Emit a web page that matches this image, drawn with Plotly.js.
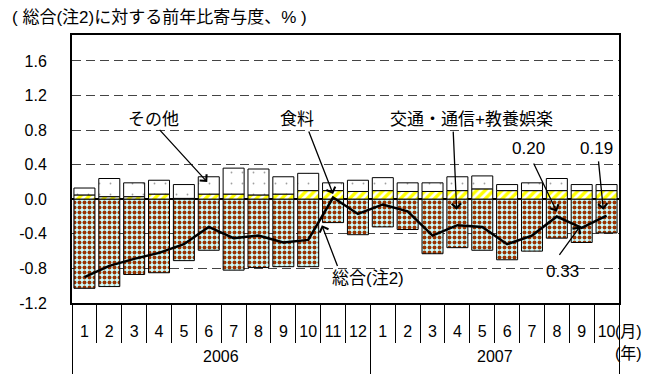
<!DOCTYPE html>
<html>
<head>
<meta charset="utf-8">
<script src="https://cdn.plot.ly/plotly-3.0.1.min.js"></script>
<style>
  html, body { margin: 0; padding: 0; background: #fff; }
  #chart { width: 669px; height: 374px; }
</style>
</head>
<body>
<div id="chart"></div>
<script>
// Month tick labels (Jan 2006 - Oct 2007) and the year groups they belong to
const monthLabels = ['1','2','3','4','5','6','7','8','9','10','11','12',
                     '1','2','3','4','5','6','7','8','9','10'];
const yearLabels = ['2006', '2007'];
const monthsPerYear = [12, 10];

// Contribution to the year-on-year change of the overall index (percentage points)
const total = [-0.90, -0.77, -0.69, -0.62, -0.52, -0.32, -0.45, -0.42, -0.50, -0.47, 0.02, -0.17,
               -0.06, -0.14, -0.42, -0.30, -0.32, -0.52, -0.42, -0.20, -0.33, -0.19];
const food = [0.05, 0.03, 0.03, 0.06, 0.01, 0.06, 0.06, 0.05, 0.06, 0.10, 0.10, 0.09,
              0.10, 0.09, 0.09, 0.10, 0.12, 0.10, 0.10, 0.10, 0.10, 0.10];
const transportCulture = [-1.03, -1.01, -0.87, -0.85, -0.71, -0.59, -0.82, -0.79, -0.78, -0.78, -0.27, -0.41,
                          -0.32, -0.35, -0.63, -0.56, -0.59, -0.70, -0.60, -0.45, -0.50, -0.39];
const others = [0.08, 0.21, 0.16, 0.16, 0.16, 0.20, 0.30, 0.30, 0.20, 0.20, 0.09, 0.13,
                0.15, 0.10, 0.10, 0.16, 0.15, 0.07, 0.09, 0.14, 0.07, 0.07];

const yTickVals = [-1.2, -0.8, -0.4, 0, 0.4, 0.8, 1.2, 1.6];
const yTickText = ['-1.2', '-0.8', '-0.4', '0.0', '0.4', '0.8', '1.2', '1.6'];

// Positions on the category scale
const idx = monthLabels.map((_, i) => i);
const monthBounds = idx.map(i => i - 0.5).concat([idx.length - 0.5]);
const yearBounds = [-0.5];
const yearCenters = [];
let start = 0;
monthsPerYear.forEach(n => {
  yearCenters.push(start + (n - 1) / 2);
  start += n;
  yearBounds.push(start - 0.5);
});

const latin = '"Liberation Sans", Arial, sans-serif';
const mixed = '"Liberation Sans", "Noto Sans CJK JP", sans-serif';
const outline = { color: '#000', width: 1 };

const traces = [
  {
    type: 'bar', name: '食料', x: idx, y: food,
    marker: { color: '#ffff00', line: outline,
      pattern: { shape: '/', fgcolor: '#ffff00', bgcolor: '#ffffff', size: 6, solidity: 0.55, fillmode: 'replace' } },
    hoverinfo: 'y+name'
  },
  {
    type: 'bar', name: 'その他', x: idx, y: others,
    marker: { color: '#ffffff', line: outline,
      pattern: { shape: '.', fgcolor: '#a0a0a0', bgcolor: '#ffffff', size: 11, solidity: 0.02, fillmode: 'replace' } },
    hoverinfo: 'y+name'
  },
  {
    type: 'bar', name: '交通・通信+教養娯楽', x: idx, y: transportCulture,
    marker: { color: '#993300', line: outline,
      pattern: { shape: '.', fgcolor: '#993300', bgcolor: '#ccffff', size: 5, solidity: 0.5, fillmode: 'replace' } },
    hoverinfo: 'y+name'
  },
  {
    type: 'scatter', mode: 'lines', name: '総合(注2)', x: idx, y: total,
    line: { color: '#000', width: 2.5 },
    hoverinfo: 'y+name'
  },
  // empty trace that carries the year-divider axis
  { type: 'scatter', x: [], y: [], xaxis: 'x2', hoverinfo: 'skip' }
];

function arrow(x, y, ax, ay) {
  return { x, y, ax, ay, xref: 'x', yref: 'y', axref: 'x', ayref: 'y', text: '',
           showarrow: true, arrowhead: 4, arrowsize: 1.4, arrowwidth: 1.3, arrowcolor: '#000' };
}
function label(x, y, text, size) {
  return { x, y, xref: 'x', yref: 'y', text, showarrow: false,
           font: { family: mixed, size: size || 17, color: '#000' } };
}

const annotations = [
  label(2.77, 0.92, 'その他'),
  arrow(4.94, 0.20, 2.97, 0.82),
  label(8.56, 0.92, '食料'),
  arrow(10.0, 0.06, 9.0, 0.80),
  label(15.55, 0.92, '交通・通信+教養娯楽'),
  arrow(14.97, -0.12, 14.83, 0.80),
  label(11.42, -0.92, '総合(注2)'),
  arrow(9.55, -0.30, 10.2, -0.79),
  label(17.88, 0.59, Math.abs(total[19]).toFixed(2), 17),
  arrow(19.0, -0.145, 18.04, 0.43),
  label(20.59, 0.59, Math.abs(total[21]).toFixed(2), 17),
  arrow(20.87, -0.122, 20.67, 0.455),
  label(19.22, -0.83, Math.abs(total[20]).toFixed(2), 17),
  arrow(19.93, -0.315, 19.06, -0.66)
];
yearLabels.forEach((yr, i) => {
  annotations.push({ x: yearCenters[i], xref: 'x', y: -0.2, yref: 'paper', text: yr,
    showarrow: false, yanchor: 'middle', font: { family: latin, size: 16, color: '#000' } });
});
annotations.push({ x: 1.045, xref: 'paper', y: -0.108, yref: 'paper', text: '(月)', showarrow: false,
  yanchor: 'middle', font: { family: mixed, size: 16, color: '#000' } });
annotations.push({ x: 1.045, xref: 'paper', y: -0.19, yref: 'paper', text: '(年)', showarrow: false,
  yanchor: 'middle', font: { family: mixed, size: 16, color: '#000' } });

const layout = {
  width: 669, height: 374,
  margin: { l: 72, r: 50, t: 35, b: 71 },
  paper_bgcolor: '#fff', plot_bgcolor: '#fff',
  barmode: 'relative', bargap: 0.155,
  showlegend: false,
  title: { text: '( 総合(注2)に対する前年比寄与度、% )', x: 12 / 669, xanchor: 'left',
           y: 1 - 17 / 374, yanchor: 'middle', font: { family: mixed, size: 17, color: '#000' } },
  xaxis: {
    range: [-0.5, idx.length - 0.5], tickmode: 'array', tickvals: idx, ticktext: monthLabels,
    ticks: '', showline: true, mirror: true, linecolor: '#000', linewidth: 2,
    showgrid: false, zeroline: false, ticklabelstandoff: 13,
    tickfont: { family: latin, size: 16, color: '#000' },
    minor: { tickmode: 'array', tickvals: monthBounds, ticks: 'outside', ticklen: 38,
             tickcolor: '#000', tickwidth: 1, showgrid: false }
  },
  xaxis2: {
    overlaying: 'x', anchor: 'y', side: 'bottom', range: [-0.5, idx.length - 0.5],
    tickmode: 'array', tickvals: yearBounds, ticks: 'outside', ticklen: 71,
    tickcolor: '#000', tickwidth: 1, showticklabels: false,
    showgrid: false, zeroline: false, showline: false
  },
  yaxis: {
    range: [-1.2, 1.9], tickmode: 'array', tickvals: yTickVals, ticktext: yTickText,
    ticks: '', showline: true, mirror: true, linecolor: '#000', linewidth: 2,
    showgrid: true, gridcolor: '#444', gridwidth: 1, griddash: '9px,5px',
    zeroline: true, zerolinecolor: '#000', zerolinewidth: 2,
    ticklabelstandoff: 20, tickfont: { family: latin, size: 16, color: '#000' }
  },
  annotations
};

Plotly.newPlot('chart', traces, layout, { displayModeBar: false, staticPlot: true });
</script>
</body>
</html>
